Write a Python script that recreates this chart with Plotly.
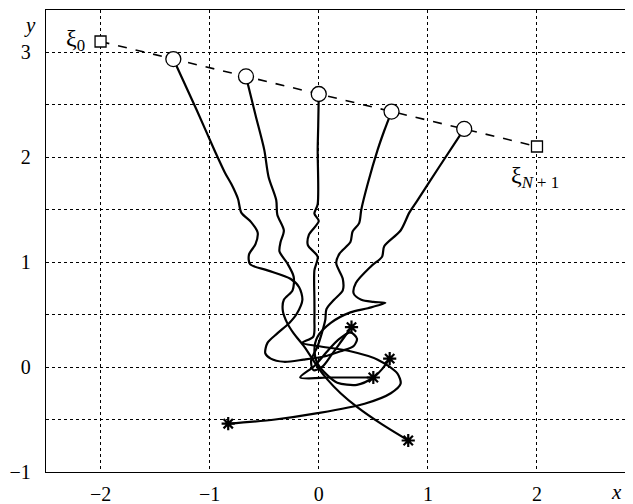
import plotly.graph_objects as go

# ---- data ----
# endpoints xi_0 and xi_{N+1}
end_x = [-2.0, 2.0]
end_y = [3.1, 2.1]

# intermediate points on the dashed segment (start of each trajectory)
circle_x = [-1.333, -0.667, 0.0, 0.667, 1.333]
circle_y = [2.933, 2.767, 2.6, 2.433, 2.267]

# trajectories
c1_x = [-1.333, -1.12, -0.95, -0.86, -0.80, -0.74, -0.71, -0.62, -0.56, -0.58, -0.64, -0.63, -0.47, -0.26, -0.18,
        -0.15, -0.20, -0.27, -0.38, -0.47, -0.49, -0.44, -0.32, -0.14, 0.05, 0.20, 0.32, 0.35, 0.29, 0.18,
        0.07, -0.04, -0.17, 0.10, 0.30, 0.50]
c1_y = [2.933, 2.45, 2.05, 1.85, 1.74, 1.60, 1.47, 1.38, 1.28, 1.17, 1.07, 0.98, 0.92, 0.84, 0.76,
        0.64, 0.51, 0.42, 0.32, 0.23, 0.13, 0.08, 0.05, 0.07, 0.10, 0.15, 0.20, 0.27, 0.33, 0.26,
        0.14, 0.01, -0.10, -0.10, -0.10, -0.10]

c2_x = [-0.667, -0.58, -0.50, -0.46, -0.39, -0.38, -0.32, -0.35, -0.36, -0.29, -0.23, -0.24, -0.32, -0.33,
        -0.29, -0.23, -0.13, -0.01, 0.08, 0.20, 0.35, 0.57, 0.82]
c2_y = [2.767, 2.40, 2.07, 1.81, 1.59, 1.45, 1.30, 1.19, 1.10, 0.99, 0.86, 0.73, 0.64, 0.54,
        0.42, 0.32, 0.19, 0.0, -0.12, -0.25, -0.38, -0.54, -0.70]

c3_x = [0.0, -0.005, -0.01, -0.01, -0.04, 0.0, -0.09, -0.10, -0.01, -0.04, -0.04, -0.04, -0.05, -0.15,
        -0.01, 0.29, 0.54, 0.72, 0.75, 0.66, 0.42, -0.01, -0.40, -0.83]
c3_y = [2.6, 2.3, 2.07, 1.55, 1.46, 1.39, 1.26, 1.16, 1.05, 0.92, 0.64, 0.45, 0.29, 0.23,
        0.20, 0.15, 0.07, -0.06, -0.16, -0.25, -0.35, -0.44, -0.50, -0.54]

c4_x = [0.667, 0.60, 0.54, 0.45, 0.39, 0.37, 0.31, 0.29, 0.19, 0.16, 0.22, 0.22, 0.14, 0.07, 0.06, 0.03,
        -0.01, -0.07, -0.05, 0.03, 0.12, 0.21, 0.30]
c4_y = [2.433, 2.25, 2.07, 1.75, 1.50, 1.37, 1.29, 1.19, 1.08, 0.99, 0.84, 0.73, 0.64, 0.55, 0.45, 0.33,
        0.20, 0.06, -0.03, 0.00, 0.12, 0.25, 0.38]

c5_x = [1.333, 1.10, 0.90, 0.83, 0.75, 0.60, 0.58, 0.48, 0.34, 0.32, 0.39, 0.50, 0.61, 0.45, 0.29, 0.11,
        -0.01, -0.04, -0.01, 0.08, 0.17, 0.35, 0.50, 0.58, 0.65]
c5_y = [2.267, 1.90, 1.58, 1.47, 1.30, 1.15, 1.05, 0.96, 0.80, 0.70, 0.64, 0.62, 0.61, 0.56, 0.52, 0.42,
        0.29, 0.16, 0.03, -0.08, -0.15, -0.17, -0.10, -0.02, 0.08]

curves = [(c1_x, c1_y), (c2_x, c2_y), (c3_x, c3_y), (c4_x, c4_y), (c5_x, c5_y)]

# end points of trajectories (stars)
star_x = [c[0][-1] for c in curves]
star_y = [c[1][-1] for c in curves]

x_ticks = [-2, -1, 0, 1, 2]
x_labels = ["−2", "−1", "0", "1", "2"]
y_ticks = [-1, 0, 1, 2, 3]
y_labels = ["−1", "0", "1", "2", "3"]

FONT = "Liberation Serif"

fig = go.Figure()

# dashed segment between xi_0 and xi_{N+1}
fig.add_trace(go.Scatter(x=end_x, y=end_y, mode="lines",
                         line=dict(color="black", width=1.6, dash="dash"),
                         hoverinfo="skip", showlegend=False))

for cx, cy in curves:
    fig.add_trace(go.Scatter(x=cx, y=cy, mode="lines",
                             line=dict(color="black", width=2.2, shape="spline", smoothing=0.8),
                             showlegend=False))

fig.add_trace(go.Scatter(x=circle_x, y=circle_y, mode="markers",
                         marker=dict(symbol="circle", size=15, color="white",
                                     line=dict(color="black", width=1.3)),
                         showlegend=False))
fig.add_trace(go.Scatter(x=end_x, y=end_y, mode="markers",
                         marker=dict(symbol="square", size=11, color="white",
                                     line=dict(color="black", width=1.3)),
                         showlegend=False))
fig.add_trace(go.Scatter(x=star_x, y=star_y, mode="markers",
                         marker=dict(symbol="asterisk-open", size=11, color="black",
                                     line=dict(color="black", width=2.2)),
                         showlegend=False))

# the page body has an 8px margin, so the figure is sized to fill the rest of the window
fig.update_layout(
    width=625, height=496,
    margin=dict(l=38, r=0, t=2, b=32, autoexpand=False),
    paper_bgcolor="white", plot_bgcolor="white",
    font=dict(family=FONT, size=20, color="black"),
    showlegend=False,
)
fig.add_annotation(x=-2.12, y=3.11, xref="x", yref="y", text="ξ<sub>0</sub>", showarrow=False,
                   xanchor="right", yanchor="middle", font=dict(family=FONT, size=24))
fig.add_annotation(x=1.74, y=1.81, xref="x", yref="y", text="ξ<sub><i>N</i> + 1</sub>", showarrow=False,
                   xanchor="left", yanchor="middle", font=dict(family=FONT, size=24))
fig.add_annotation(x=-0.027, y=0.967, xref="paper", yref="paper", text="<i>y</i>",
                   showarrow=False, xanchor="center", yanchor="middle",
                   font=dict(family=FONT, size=21))
fig.add_annotation(x=0.972, y=-0.043, xref="paper", yref="paper", text="<i>x</i>",
                   showarrow=False, xanchor="center", yanchor="middle",
                   font=dict(family=FONT, size=21))

fig.update_xaxes(range=[-2.5, 2.88], tickvals=x_ticks, ticktext=x_labels, automargin=False,
                 showgrid=True, gridcolor="black", gridwidth=1, griddash="dot",
                 zeroline=False, showline=True, linecolor="black", linewidth=1.3, mirror=True,
                 ticks="", ticklabelstandoff=4, tickfont=dict(family=FONT, size=20))
fig.update_yaxes(range=[-1, 3.4], tickvals=y_ticks, ticktext=y_labels, automargin=False,
                 showgrid=True, gridcolor="black", gridwidth=1, griddash="dot",
                 minor=dict(dtick=0.5, tick0=0, showgrid=True, gridcolor="black", gridwidth=1,
                            griddash="dot", ticks=""),
                 zeroline=False, showline=True, linecolor="black", linewidth=1.3, mirror=False,
                 ticks="", ticklabelstandoff=10, tickfont=dict(family=FONT, size=20))

fig.write_html("out.html")
